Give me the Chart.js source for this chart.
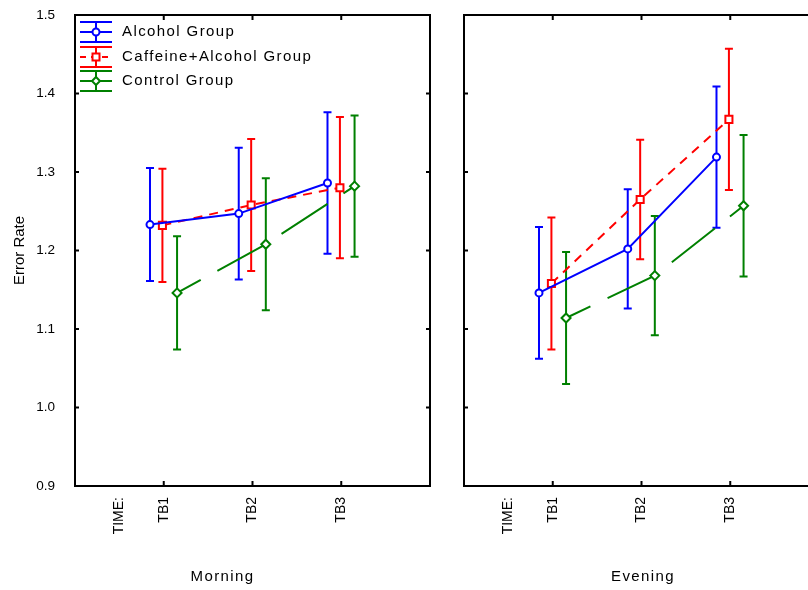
<!DOCTYPE html>
<html>
<head>
<meta charset="utf-8">
<script src="https://cdn.jsdelivr.net/npm/chart.js@4.4.1/dist/chart.umd.min.js"></script>
<style>
  html, body { margin: 0; padding: 0; background: #fff; overflow: hidden; }
  body { width: 808px; height: 590px; position: relative; }
  canvas { position: absolute; top: 0; }
  #morning { left: 0; }
  #evening { left: 445px; }
</style>
</head>
<body>
<canvas id="morning" width="445" height="590"></canvas>
<canvas id="evening" width="396" height="590"></canvas>
<script>
const timeLabels = ["TB1", "TB2", "TB3"];
const factorLabel = "TIME:";
const groupNames = ["Alcohol Group", "Caffeine+Alcohol Group", "Control Group"];
const yTickValues = [0.9, 1.0, 1.1, 1.2, 1.3, 1.4, 1.5];

// means, error bars are +/- per time block
const morningAlcohol = [1.233, 1.247, 1.286];
const morningCaffeine = [1.232, 1.258, 1.280];
const morningControl = [1.146, 1.208, 1.282];
const morningErr = [0.072, 0.084, 0.090];

const eveningAlcohol = [1.146, 1.202, 1.319];
const eveningCaffeine = [1.158, 1.265, 1.367];
const eveningControl = [1.114, 1.168, 1.257];
const eveningErr = [0.084, 0.076, 0.090];

const seriesColors = ["#0000ff", "#ff0000", "#008000"];
const pointStyles = ["circle", "rect", "rectRot"];
const pointSizes = [3.5, 5, 4.5];
const dashes = [[], [9, 7], [55, 19]];
const dashOffsets = [0, 0, 28];
const xShift = [-0.155, -0.015, 0.15];

const FONT = "'Liberation Sans', Arial, sans-serif";
Chart.defaults.font.family = FONT;
Chart.defaults.color = "#000";

function legendIcon(k) {
  const c = document.createElement("canvas");
  c.width = 32;
  c.height = 22;
  const g = c.getContext("2d");
  g.strokeStyle = seriesColors[k];
  g.lineWidth = 2;
  g.beginPath();
  g.moveTo(0, 1); g.lineTo(32, 1);
  g.moveTo(0, 21); g.lineTo(32, 21);
  g.moveTo(16, 1); g.lineTo(16, 21);
  g.stroke();
  g.setLineDash(k === 1 ? [6, 5] : []);
  g.beginPath();
  g.moveTo(0, 11); g.lineTo(32, 11);
  g.stroke();
  g.setLineDash([]);
  g.fillStyle = "#fff";
  g.beginPath();
  if (k === 0) g.arc(16, 11, 3.5, 0, Math.PI * 2);
  else if (k === 1) g.rect(12.5, 7.5, 7, 7);
  else { g.moveTo(16, 7); g.lineTo(20, 11); g.lineTo(16, 15); g.lineTo(12, 11); g.closePath(); }
  g.fill();
  g.stroke();
  return c;
}
const legendIcons = [0, 1, 2].map(legendIcon);

// bottom title gets the wide Statistica spacing, axes don't
const textSpacing = {
  id: "textSpacing",
  beforeDraw(chart) { chart.ctx.letterSpacing = "1.4px"; },
  beforeDatasetsDraw(chart) { chart.ctx.letterSpacing = "0px"; }
};

// legend in the top left corner of the plot, error bar glyph + label
const groupLegend = {
  id: "groupLegend",
  afterDraw(chart, args, opts) {
    if (!opts.show) return;
    const { ctx, chartArea: a } = chart;
    ctx.save();
    ctx.font = "15px " + FONT;
    ctx.fillStyle = "#000";
    ctx.textBaseline = "middle";
    ctx.textAlign = "left";
    ctx.letterSpacing = "1.4px";
    chart.data.datasets.forEach((ds, k) => {
      const cy = a.top + 17 + k * 24.5;
      ctx.drawImage(legendIcons[k], a.left + 5, Math.round(cy - 11));
      ctx.fillText(ds.label, a.left + 47, cy);
    });
    ctx.restore();
  }
};

const errorBars = {
  id: "errorBars",
  beforeDatasetsDraw(chart) {
    const ctx = chart.ctx;
    const y = chart.scales.y;
    ctx.save();
    ctx.lineWidth = 2;
    ctx.setLineDash([]);
    chart.data.datasets.forEach((ds, di) => {
      const meta = chart.getDatasetMeta(di);
      ctx.strokeStyle = ds.borderColor;
      meta.data.forEach((pt, i) => {
        const top = y.getPixelForValue(ds.data[i].y + ds.errors[i]);
        const bot = y.getPixelForValue(ds.data[i].y - ds.errors[i]);
        ctx.beginPath();
        ctx.moveTo(pt.x, top); ctx.lineTo(pt.x, bot);
        ctx.moveTo(pt.x - 4, top); ctx.lineTo(pt.x + 4, top);
        ctx.moveTo(pt.x - 4, bot); ctx.lineTo(pt.x + 4, bot);
        ctx.stroke();
      });
    });
    ctx.restore();
  }
};

const frame = {
  id: "frame",
  afterDraw(chart) {
    const { ctx, chartArea: a, scales: { x, y } } = chart;
    ctx.save();
    ctx.strokeStyle = "#000";
    ctx.lineWidth = 2;
    ctx.setLineDash([]);
    ctx.strokeRect(a.left, a.top, a.right - a.left, a.bottom - a.top);
    ctx.beginPath();
    timeLabels.forEach((_, i) => {
      const px = x.getPixelForValue(i + 1);
      ctx.moveTo(px, a.top); ctx.lineTo(px, a.top + 5);
      ctx.moveTo(px, a.bottom); ctx.lineTo(px, a.bottom - 5);
    });
    yTickValues.slice(1, -1).forEach(v => {
      const py = y.getPixelForValue(v);
      ctx.moveTo(a.left, py); ctx.lineTo(a.left + 4, py);
      ctx.moveTo(a.right, py); ctx.lineTo(a.right - 4, py);
    });
    ctx.stroke();
    ctx.restore();
  }
};

function panelConfig(title, series, err, first) {
  const datasets = series.map((vals, k) => ({
    label: groupNames[k],
    data: vals.map((v, i) => ({ x: i + 1 + xShift[k], y: v })),
    errors: err,
    borderColor: seriesColors[k],
    backgroundColor: "#fff",
    borderWidth: 2,
    borderDash: dashes[k],
    borderDashOffset: dashOffsets[k],
    pointStyle: pointStyles[k],
    pointRadius: pointSizes[k],
    pointBorderWidth: 2,
    pointBackgroundColor: "#fff",
    tension: 0
  }));

  return {
    type: "line",
    data: { datasets },
    options: {
      responsive: false,
      animation: false,
      events: [],
      layout: { padding: { left: 0, right: 0, top: 15, bottom: 0 } },
      scales: {
        x: {
          type: "linear",
          min: 0,
          max: 4,
          grid: { display: false, z: 1 },
          border: { display: false },
          afterBuildTicks: s => { s.ticks = [0.5].concat(timeLabels.map((_, i) => i + 1)).map(v => ({ value: v })); },
          afterFit: s => { s.height = 82; s.paddingLeft = 0; s.paddingRight = 0; },
          ticks: {
            z: 1,
            autoSkip: false,
            minRotation: 90,
            maxRotation: 90,
            padding: 3,
            font: { size: 14 },
            callback: v => (v === 0.5 ? factorLabel : timeLabels[v - 1])
          }
        },
        y: {
          min: 0.9,
          max: 1.5,
          grid: { display: false, z: 1 },
          border: { display: false },
          afterBuildTicks: s => { s.ticks = yTickValues.map(v => ({ value: v })); },
          afterFit: s => { s.width = first ? 75 : 19; s.paddingTop = 0; s.paddingBottom = 0; },
          ticks: {
            z: 1,
            display: first,
            padding: 12,
            font: { size: 13.5 },
            callback: v => v.toFixed(1)
          },
          title: {
            display: first,
            text: "Error Rate",
            font: { size: 15 },
            padding: { top: 11, bottom: 0 }
          }
        },
        yRight: {
          position: "right",
          min: 0.9,
          max: 1.5,
          grid: { display: false },
          border: { display: false },
          ticks: { display: false },
          afterFit: s => { s.width = first ? 15 : 22; }
        }
      },
      plugins: {
        legend: { display: false },
        groupLegend: { show: first },
        title: {
          display: true,
          text: title,
          position: "bottom",
          color: "#000",
          font: { size: 15, weight: "normal" },
          padding: { top: 0, bottom: 4 }
        },
        tooltip: { enabled: false }
      }
    },
    plugins: [textSpacing, groupLegend, errorBars, frame]
  };
}

new Chart(document.getElementById("morning"),
  panelConfig("Morning", [morningAlcohol, morningCaffeine, morningControl], morningErr, true));
new Chart(document.getElementById("evening"),
  panelConfig("Evening", [eveningAlcohol, eveningCaffeine, eveningControl], eveningErr, false));
</script>
</body>
</html>
